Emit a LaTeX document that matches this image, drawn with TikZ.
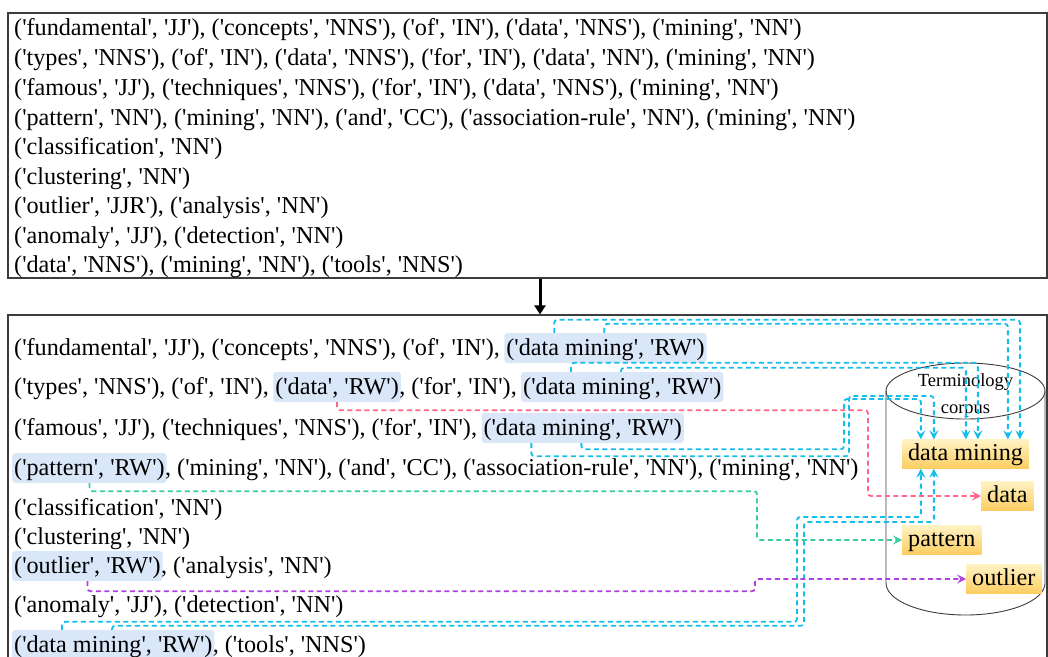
\documentclass[tikz,border=0pt]{standalone}
\usepackage{fontspec}
\setmainfont{Liberation Serif}[Ligatures=TeXOff]
\usetikzlibrary{arrows.meta,calc}

\definecolor{hlblue}{RGB}{218,231,249}
\definecolor{cyanl}{RGB}{20,190,235}
\definecolor{pinkl}{RGB}{255,102,136}
\definecolor{greenl}{RGB}{56,204,160}
\definecolor{purpl}{RGB}{176,64,224}
\definecolor{framec}{RGB}{60,60,60}
\definecolor{ylo}{RGB}{255,243,196}
\definecolor{yhi}{RGB}{252,205,96}

\begin{document}
\begin{tikzpicture}[x=1pt,y=-1pt,
  every node/.style={font=\fontsize{24.2}{29}\selectfont},
  txt/.style={anchor=base west,inner sep=0pt},
  hl/.style={anchor=base west,fill=hlblue,rounded corners=3pt,inner xsep=2pt,
    inner ysep=3pt,text height=19pt,text depth=5pt},
  term/.style={top color=ylo,bottom color=yhi,inner xsep=6pt,inner ysep=3.5pt,
    text height=17pt,text depth=5pt},
  panel/.style={draw=framec,line width=1.2pt,minimum width=1039pt,inner sep=0pt},
  link/.style={dash pattern=on 5pt off 3.5pt,line width=1.8pt,rounded corners=3pt,
    -{Stealth[length=9pt,width=9pt,inset=3.5pt]}},
  cyl/.style={link,draw=cyanl,cyanl},
  pkl/.style={link,draw=pinkl,pinkl},
  gnl/.style={link,draw=greenl,greenl},
  ppl/.style={link,draw=purpl,purpl},
  cyldrum/.style={draw=framec,line width=0.9pt}]

\path[use as bounding box] (0,0) rectangle (1048,656);
\clip (0,0) rectangle (1048,656);

% panels
\node[panel,minimum height=265pt] (inbox) at (527.5,145.5) {};
\node[panel,minimum height=400pt] (outbox) at (527.5,515) {};
\draw[line width=3pt,-{Triangle[length=9pt,width=11pt]}]
  ([xshift=12.5pt]inbox.south) -- ([xshift=12.5pt]outbox.north);

% tagged tokens
\node[txt] (t1) at (14,35)  {('fundamental', 'JJ'), ('concepts', 'NNS'), ('of', 'IN'), ('data', 'NNS'), ('mining', 'NN')};
\node[txt] (t2) at (14,65)  {('types', 'NNS'), ('of', 'IN'), ('data', 'NNS'), ('for', 'IN'), ('data', 'NN'), ('mining', 'NN')};
\node[txt] (t3) at (14,95)  {('famous', 'JJ'), ('techniques', 'NNS'), ('for', 'IN'), ('data', 'NNS'), ('mining', 'NN')};
\node[txt] (t4) at (14,125) {('pattern', 'NN'), ('mining', 'NN'), ('and', 'CC'), ('association-rule', 'NN'), ('mining', 'NN')};
\node[txt] (t5) at (14,154) {('classification', 'NN')};
\node[txt] (t6) at (14,184) {('clustering', 'NN')};
\node[txt] (t7) at (14,213) {('outlier', 'JJR'), ('analysis', 'NN')};
\node[txt] (t8) at (14,243) {('anomaly', 'JJ'), ('detection', 'NN')};
\node[txt] (t9) at (14,272) {('data', 'NNS'), ('mining', 'NN'), ('tools', 'NNS')};

% retagged tokens (a word space of 6pt separates a token from the next one)
\node[txt] (b1a) at (14,355) {('fundamental', 'JJ'), ('concepts', 'NNS'), ('of', 'IN'),};
\node[hl]  (b1b) at ([xshift=4pt]b1a.base east) {('data mining', 'RW')};

\node[txt] (b2a) at (14,394) {('types', 'NNS'), ('of', 'IN'),};
\node[hl]  (b2b) at ([xshift=4pt]b2a.base east) {('data', 'RW')};
\node[txt] (b2c) at ([xshift=-2pt]b2b.base east) {, ('for', 'IN'),};
\node[hl]  (b2d) at ([xshift=4pt]b2c.base east) {('data mining', 'RW')};

\node[txt] (b3a) at (14,435) {('famous', 'JJ'), ('techniques', 'NNS'), ('for', 'IN'),};
\node[hl]  (b3b) at ([xshift=4pt]b3a.base east) {('data mining', 'RW')};

\node[hl]  (b4a) at (12,475) {('pattern', 'RW')};
\node[txt] (b4b) at ([xshift=-2pt]b4a.base east) {, ('mining', 'NN'), ('and', 'CC'), ('association-rule', 'NN'), ('mining', 'NN')};

\node[txt] (b5) at (14,515) {('classification', 'NN')};
\node[txt] (b6) at (14,544) {('clustering', 'NN')};

\node[hl]  (b7a) at (12,573) {('outlier', 'RW')};
\node[txt] (b7b) at ([xshift=-2pt]b7a.base east) {, ('analysis', 'NN')};

\node[txt] (b8) at (14,612) {('anomaly', 'JJ'), ('detection', 'NN')};

\node[hl]  (b9a) at (12,652) {('data mining', 'RW')};
\node[txt] (b9b) at ([xshift=-2pt]b9a.base east) {, ('tools', 'NNS')};

% terminology corpus drum
\draw[cyldrum] (886,391) -- (886,583)
  arc[start angle=180,end angle=360,x radius=79.5pt,y radius=32pt] -- (1045,391);
\draw[cyldrum] (965.5,391) ellipse[x radius=79.5pt,y radius=28pt];
\node[anchor=base,font=\fontsize{18.5}{22}\selectfont] (cyl1) at (965.5,386) {Terminology};
\node[anchor=base,font=\fontsize{18.5}{22}\selectfont] (cyl2) at (965.5,413) {corpus};

% corpus terms
\node[term] (dm) at (965.5,454) {data mining};
\node[term,anchor=west] (dat) at (981,496) {data};
\node[term,anchor=west] (pat) at (902,540) {pattern};
\node[term,anchor=west] (out) at (966,579) {outlier};

% links from retagged tokens to corpus terms
\draw[cyl] ([xshift=50pt]b1b.north west) -- ++(0,-13) -| ([xshift=118pt]dm.north west);
\draw[cyl] ([xshift=100pt]b1b.north west) -- ++(0,-9) -| ([xshift=106pt]dm.north west);

\draw[cyl] ([xshift=50pt]b2d.north west) -- ++(0,-9) -| ([xshift=76pt]dm.north west);
\draw[cyl] ([xshift=100pt]b2d.north west) -- ++(0,-4) -| ([xshift=64pt]dm.north west);

\draw[cyl] ([xshift=50pt]b3b.south west) -- ++(0,13) -| (849,396) -| ([xshift=32pt]dm.north west);
\draw[cyl] ([xshift=100pt]b3b.south west) -- ++(0,6) -| (844,399) -| ([xshift=19pt]dm.north west);

\draw[cyl] ([xshift=50pt]b9a.north west) -- ++(0,-8) -| (797,517) -| ([xshift=19pt]dm.south west);
\draw[cyl] ([xshift=100pt]b9a.north west) -- ++(0,-4) -| (804,522) -| ([xshift=32pt]dm.south west);

\draw[pkl] (b2b.south) -- ++(0,8) -| ([xshift=-113pt]dat.west) -- (dat.west);
\draw[gnl] (b4a.south) -- ++(0,8) -| ([xshift=-145pt]pat.west) -- (pat.west);
\draw[ppl] (b7a.south) -- ++(0,10) -| ([xshift=-211pt]out.west) -- (out.west);
\end{tikzpicture}
\end{document}
